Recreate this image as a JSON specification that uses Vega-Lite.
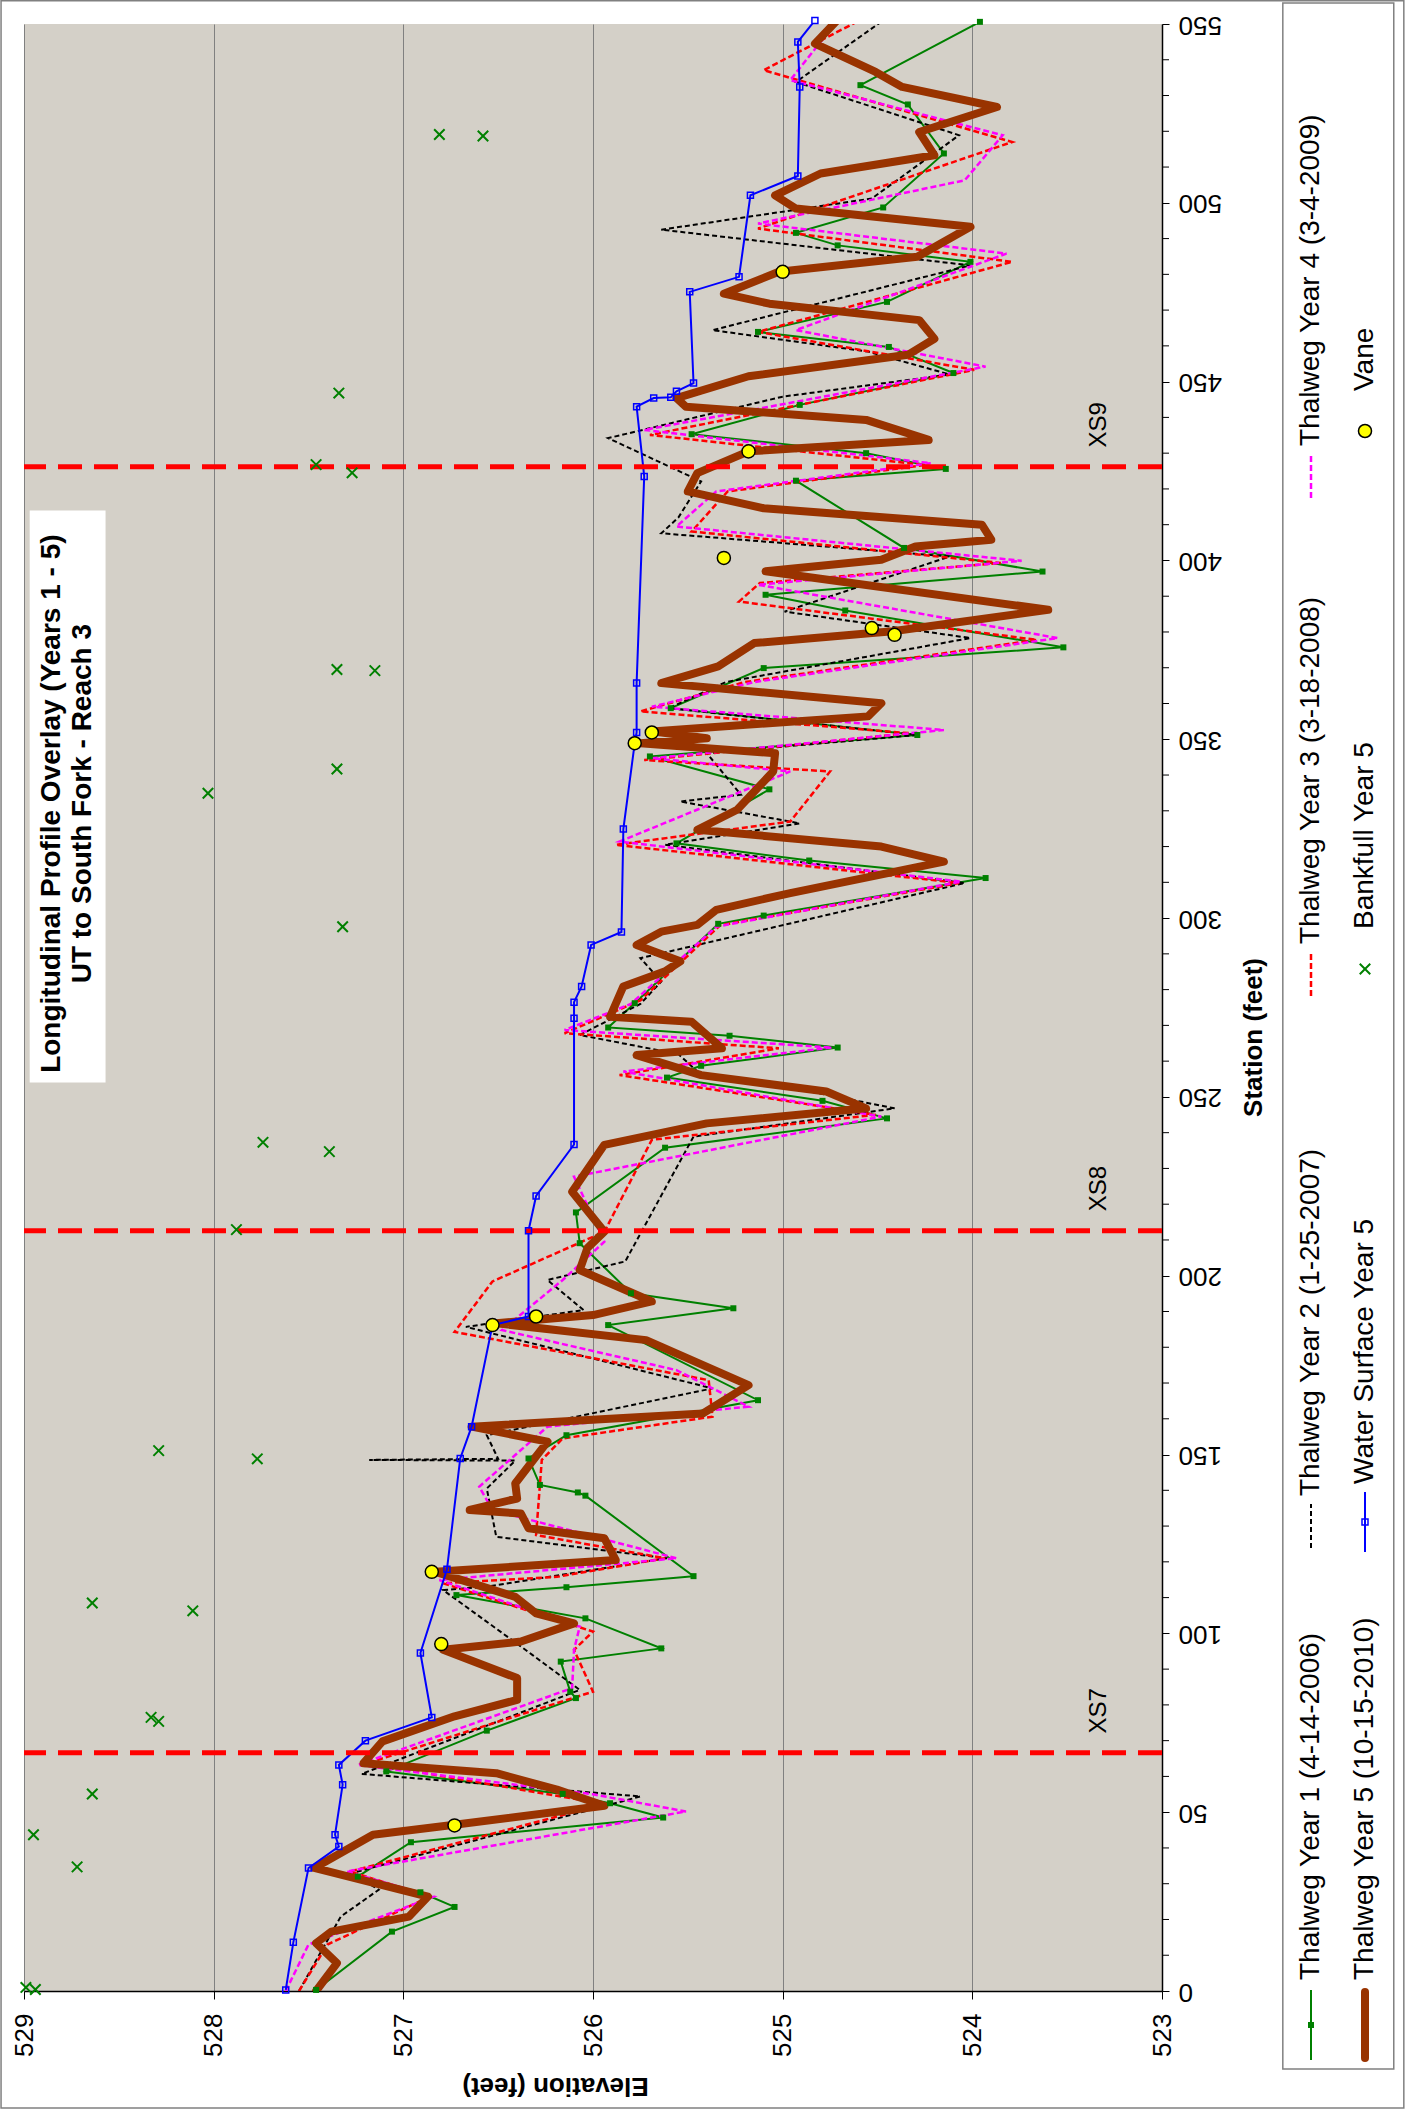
{
"$schema": "https://vega.github.io/schema/vega-lite/v6.json",
"width": 1138,
"height": 1967,
"autosize": {"type": "none"},
"padding": {"left": 24, "top": 24, "right": 243, "bottom": 121},
"background": "white",
"config": {"view": {"fill": "#D4D0C8", "stroke": null}, "font": "Liberation Sans"},
"datasets": {
"profiles": [
{"series":"Y1","station":0.3,"elevation":527.46},{"series":"Y1","station":16.6,"elevation":527.06},{"series":"Y1","station":23.5,"elevation":526.73},{"series":"Y1","station":27.6,"elevation":526.91},{"series":"Y1","station":32,"elevation":527.24},{"series":"Y1","station":41.6,"elevation":526.96},{"series":"Y1","station":48.5,"elevation":525.63},{"series":"Y1","station":52.5,"elevation":525.91},{"series":"Y1","station":55.1,"elevation":526.16},{"series":"Y1","station":61.4,"elevation":527.09},{"series":"Y1","station":72.8,"elevation":526.56},{"series":"Y1","station":81.9,"elevation":526.09},{"series":"Y1","station":83.7,"elevation":526.12},{"series":"Y1","station":92.1,"elevation":526.17},{"series":"Y1","station":95.8,"elevation":525.64},{"series":"Y1","station":104.2,"elevation":526.04},{"series":"Y1","station":110.7,"elevation":526.72},{"series":"Y1","station":112.9,"elevation":526.14},{"series":"Y1","station":116,"elevation":525.47},{"series":"Y1","station":138.5,"elevation":526.04},{"series":"Y1","station":139.4,"elevation":526.08},{"series":"Y1","station":141.5,"elevation":526.28},{"series":"Y1","station":148.9,"elevation":526.34},{"series":"Y1","station":155.4,"elevation":526.14},{"series":"Y1","station":165.2,"elevation":525.13},{"series":"Y1","station":186.2,"elevation":525.92},{"series":"Y1","station":190.9,"elevation":525.26},{"series":"Y1","station":195.1,"elevation":525.8},{"series":"Y1","station":209.1,"elevation":526.07},{"series":"Y1","station":217.7,"elevation":526.09},{"series":"Y1","station":235.8,"elevation":525.62},{"series":"Y1","station":244,"elevation":524.45},{"series":"Y1","station":248.9,"elevation":524.79},{"series":"Y1","station":255.4,"elevation":525.61},{"series":"Y1","station":258.7,"elevation":525.43},{"series":"Y1","station":263.8,"elevation":524.71},{"series":"Y1","station":267.1,"elevation":525.28},{"series":"Y1","station":269.4,"elevation":525.92},{"series":"Y1","station":276.2,"elevation":525.78},{"series":"Y1","station":298.4,"elevation":525.34},{"series":"Y1","station":300.7,"elevation":525.1},{"series":"Y1","station":311.2,"elevation":523.93},{"series":"Y1","station":316.1,"elevation":524.86},{"series":"Y1","station":320.9,"elevation":525.56},{"series":"Y1","station":336,"elevation":525.07},{"series":"Y1","station":345.2,"elevation":525.7},{"series":"Y1","station":351.2,"elevation":524.29},{"series":"Y1","station":358.7,"elevation":525.59},{"series":"Y1","station":369.9,"elevation":525.1},{"series":"Y1","station":375.7,"elevation":523.52},{"series":"Y1","station":386,"elevation":524.67},{"series":"Y1","station":390.4,"elevation":525.09},{"series":"Y1","station":396.9,"elevation":523.63},{"series":"Y1","station":403.5,"elevation":524.36},{"series":"Y1","station":422.3,"elevation":524.93},{"series":"Y1","station":425.6,"elevation":524.14},{"series":"Y1","station":430,"elevation":524.56},{"series":"Y1","station":435.3,"elevation":525.48},{"series":"Y1","station":443.5,"elevation":524.91},{"series":"Y1","station":452.4,"elevation":524.1},{"series":"Y1","station":459.7,"elevation":524.44},{"series":"Y1","station":463.9,"elevation":525.13},{"series":"Y1","station":472.3,"elevation":524.45},{"series":"Y1","station":483.5,"elevation":524.01},{"series":"Y1","station":488.1,"elevation":524.71},{"series":"Y1","station":491.6,"elevation":524.93},{"series":"Y1","station":498.7,"elevation":524.47},{"series":"Y1","station":513.8,"elevation":524.15},{"series":"Y1","station":527.5,"elevation":524.34},{"series":"Y1","station":532.9,"elevation":524.59},{"series":"Y1","station":550.6,"elevation":523.96},
{"series":"Y2","station":0,"elevation":527.55},{"series":"Y2","station":20.8,"elevation":527.33},{"series":"Y2","station":28.3,"elevation":527.13},{"series":"Y2","station":33,"elevation":527.27},{"series":"Y2","station":54.4,"elevation":525.75},{"series":"Y2","station":60.7,"elevation":527.22},{"series":"Y2","station":84.2,"elevation":526.07},{"series":"Y2","station":94,"elevation":526.32},{"series":"Y2","station":112.1,"elevation":526.79},{"series":"Y2","station":113,"elevation":526.57},{"series":"Y2","station":121,"elevation":525.61},{"series":"Y2","station":127,"elevation":526.51},{"series":"Y2","station":140.5,"elevation":526.56},{"series":"Y2","station":148.3,"elevation":526.41},{"series":"Y2","station":148.5,"elevation":527.18},{"series":"Y2","station":148.8,"elevation":526.5},{"series":"Y2","station":155.4,"elevation":526.56},{"series":"Y2","station":168.5,"elevation":525.37},{"series":"Y2","station":185.7,"elevation":526.67},{"series":"Y2","station":190.4,"elevation":526.05},{"series":"Y2","station":198.8,"elevation":526.24},{"series":"Y2","station":204,"elevation":525.83},{"series":"Y2","station":238.9,"elevation":525.47},{"series":"Y2","station":246.8,"elevation":524.41},{"series":"Y2","station":252,"elevation":524.9},{"series":"Y2","station":256.1,"elevation":525.43},{"series":"Y2","station":262,"elevation":525.55},{"series":"Y2","station":267.3,"elevation":526.07},{"series":"Y2","station":276,"elevation":525.75},{"series":"Y2","station":282.3,"elevation":525.64},{"series":"Y2","station":288.8,"elevation":525.75},{"series":"Y2","station":309.8,"elevation":524.04},{"series":"Y2","station":320.5,"elevation":525.62},{"series":"Y2","station":326.5,"elevation":524.91},{"series":"Y2","station":332.6,"elevation":525.54},{"series":"Y2","station":334.5,"elevation":525.22},{"series":"Y2","station":346.1,"elevation":525.4},{"series":"Y2","station":351.2,"elevation":524.29},{"series":"Y2","station":358.7,"elevation":525.6},{"series":"Y2","station":366,"elevation":525.3},{"series":"Y2","station":378.3,"elevation":524.01},{"series":"Y2","station":385.7,"elevation":524.99},{"series":"Y2","station":401.1,"elevation":524.12},{"series":"Y2","station":407.6,"elevation":525.64},{"series":"Y2","station":412,"elevation":525.55},{"series":"Y2","station":422.1,"elevation":525.43},{"series":"Y2","station":434.2,"elevation":525.92},{"series":"Y2","station":445.8,"elevation":525.0},{"series":"Y2","station":452,"elevation":524.12},{"series":"Y2","station":458.4,"elevation":524.55},{"series":"Y2","station":464.4,"elevation":525.37},{"series":"Y2","station":482.5,"elevation":524.01},{"series":"Y2","station":492.5,"elevation":525.64},{"series":"Y2","station":501.2,"elevation":524.53},{"series":"Y2","station":518.9,"elevation":524.07},{"series":"Y2","station":533.8,"elevation":524.93},{"series":"Y2","station":551,"elevation":524.47},
{"series":"Y3","station":0,"elevation":527.55},{"series":"Y3","station":13,"elevation":527.4},{"series":"Y3","station":26.4,"elevation":526.86},{"series":"Y3","station":33.4,"elevation":527.28},{"series":"Y3","station":52.3,"elevation":525.94},{"series":"Y3","station":63.7,"elevation":527.19},{"series":"Y3","station":83.7,"elevation":526.0},{"series":"Y3","station":95.4,"elevation":526.1},{"series":"Y3","station":100.5,"elevation":526.0},{"series":"Y3","station":114,"elevation":526.79},{"series":"Y3","station":115.8,"elevation":526.19},{"series":"Y3","station":121,"elevation":525.62},{"series":"Y3","station":127.5,"elevation":526.3},{"series":"Y3","station":148.5,"elevation":526.27},{"series":"Y3","station":154.5,"elevation":526.16},{"series":"Y3","station":160.6,"elevation":525.37},{"series":"Y3","station":170.8,"elevation":525.39},{"series":"Y3","station":184.3,"elevation":526.73},{"series":"Y3","station":198.4,"elevation":526.53},{"series":"Y3","station":212.3,"elevation":525.94},{"series":"Y3","station":238,"elevation":525.69},{"series":"Y3","station":245,"elevation":524.51},{"series":"Y3","station":256.1,"elevation":525.86},{"series":"Y3","station":263.6,"elevation":525.02},{"series":"Y3","station":267.8,"elevation":526.15},{"series":"Y3","station":277,"elevation":525.75},{"series":"Y3","station":298,"elevation":525.33},{"series":"Y3","station":309.8,"elevation":524.07},{"series":"Y3","station":320.5,"elevation":525.88},{"series":"Y3","station":327,"elevation":524.96},{"series":"Y3","station":341,"elevation":524.75},{"series":"Y3","station":344.2,"elevation":525.73},{"series":"Y3","station":351.7,"elevation":524.33},{"series":"Y3","station":357.8,"elevation":525.75},{"series":"Y3","station":366,"elevation":525.2},{"series":"Y3","station":377.8,"elevation":523.66},{"series":"Y3","station":388.5,"elevation":525.23},{"series":"Y3","station":393.7,"elevation":525.12},{"series":"Y3","station":399.3,"elevation":523.85},{"series":"Y3","station":408.1,"elevation":525.48},{"series":"Y3","station":419.3,"elevation":525.29},{"series":"Y3","station":426.7,"elevation":524.25},{"series":"Y3","station":435.1,"elevation":525.7},{"series":"Y3","station":453.3,"elevation":523.99},{"series":"Y3","station":463.9,"elevation":525.13},{"series":"Y3","station":483.5,"elevation":523.79},{"series":"Y3","station":492.8,"elevation":525.13},{"series":"Y3","station":517,"elevation":523.79},{"series":"Y3","station":537.1,"elevation":525.1},{"series":"Y3","station":550.6,"elevation":524.61},
{"series":"Y4","station":0,"elevation":527.62},{"series":"Y4","station":13,"elevation":527.5},{"series":"Y4","station":26.4,"elevation":526.84},{"series":"Y4","station":33.4,"elevation":527.3},{"series":"Y4","station":50.2,"elevation":525.51},{"series":"Y4","station":55,"elevation":526.0},{"series":"Y4","station":63.2,"elevation":527.24},{"series":"Y4","station":84.7,"elevation":526.11},{"series":"Y4","station":95.4,"elevation":526.1},{"series":"Y4","station":101.9,"elevation":526.07},{"series":"Y4","station":114.9,"elevation":526.81},{"series":"Y4","station":121,"elevation":525.56},{"series":"Y4","station":134.5,"elevation":526.53},{"series":"Y4","station":141,"elevation":526.6},{"series":"Y4","station":157.8,"elevation":526.24},{"series":"Y4","station":163.4,"elevation":525.18},{"series":"Y4","station":173.6,"elevation":525.56},{"series":"Y4","station":184.8,"elevation":526.48},{"series":"Y4","station":198.8,"elevation":526.16},{"series":"Y4","station":209.5,"elevation":525.94},{"series":"Y4","station":227.7,"elevation":526.1},{"series":"Y4","station":244.5,"elevation":524.48},{"series":"Y4","station":257.1,"elevation":525.84},{"series":"Y4","station":263.8,"elevation":524.74},{"series":"Y4","station":268.7,"elevation":526.15},{"series":"Y4","station":276,"elevation":525.8},{"series":"Y4","station":297.6,"elevation":525.35},{"series":"Y4","station":310.2,"elevation":524.06},{"series":"Y4","station":321.4,"elevation":525.86},{"series":"Y4","station":341,"elevation":524.96},{"series":"Y4","station":344.7,"elevation":525.69},{"series":"Y4","station":352.6,"elevation":524.15},{"series":"Y4","station":359.1,"elevation":525.69},{"series":"Y4","station":366,"elevation":525.15},{"series":"Y4","station":378.3,"elevation":523.55},{"series":"Y4","station":393.2,"elevation":525.13},{"series":"Y4","station":399.9,"elevation":523.74},{"series":"Y4","station":409.5,"elevation":525.56},{"series":"Y4","station":419.3,"elevation":525.35},{"series":"Y4","station":427.2,"elevation":524.22},{"series":"Y4","station":436.5,"elevation":525.73},{"series":"Y4","station":454.2,"elevation":523.93},{"series":"Y4","station":464.4,"elevation":524.93},{"series":"Y4","station":485.8,"elevation":523.82},{"series":"Y4","station":494.2,"elevation":525.13},{"series":"Y4","station":506.3,"elevation":524.04},{"series":"Y4","station":518.9,"elevation":523.84},{"series":"Y4","station":534.3,"elevation":524.96},{"series":"Y4","station":551,"elevation":524.71},
{"series":"Y5","station":0,"elevation":527.46},{"series":"Y5","station":7.8,"elevation":527.35},{"series":"Y5","station":13.4,"elevation":527.46},{"series":"Y5","station":16.6,"elevation":527.38},{"series":"Y5","station":20.8,"elevation":526.97},{"series":"Y5","station":26.4,"elevation":526.87},{"series":"Y5","station":34.4,"elevation":527.47},{"series":"Y5","station":43.7,"elevation":527.16},{"series":"Y5","station":46.5,"elevation":526.73},{"series":"Y5","station":51.8,"elevation":525.94},{"series":"Y5","station":56.3,"elevation":526.19},{"series":"Y5","station":60.9,"elevation":526.51},{"series":"Y5","station":63.7,"elevation":527.21},{"series":"Y5","station":69.8,"elevation":527.11},{"series":"Y5","station":76.8,"elevation":526.73},{"series":"Y5","station":81.4,"elevation":526.4},{"series":"Y5","station":87.5,"elevation":526.4},{"series":"Y5","station":95.4,"elevation":526.79},{"series":"Y5","station":97.7,"elevation":526.38},{"series":"Y5","station":102.8,"elevation":526.1},{"series":"Y5","station":105.6,"elevation":526.3},{"series":"Y5","station":110.2,"elevation":526.41},{"series":"Y5","station":117.2,"elevation":526.83},{"series":"Y5","station":120.5,"elevation":525.88},{"series":"Y5","station":126.6,"elevation":525.94},{"series":"Y5","station":129.4,"elevation":526.34},{"series":"Y5","station":133.5,"elevation":526.38},{"series":"Y5","station":134.5,"elevation":526.65},{"series":"Y5","station":137.7,"elevation":526.4},{"series":"Y5","station":141.9,"elevation":526.41},{"series":"Y5","station":153.6,"elevation":526.24},{"series":"Y5","station":157.8,"elevation":526.64},{"series":"Y5","station":161.5,"elevation":525.42},{"series":"Y5","station":169.4,"elevation":525.18},{"series":"Y5","station":182,"elevation":525.72},{"series":"Y5","station":186.7,"elevation":526.51},{"series":"Y5","station":189,"elevation":526.0},{"series":"Y5","station":192.8,"elevation":525.69},{"series":"Y5","station":201.6,"elevation":526.07},{"series":"Y5","station":207.7,"elevation":526.03},{"series":"Y5","station":212.3,"elevation":525.94},{"series":"Y5","station":223.5,"elevation":526.11},{"series":"Y5","station":236.6,"elevation":525.94},{"series":"Y5","station":242.6,"elevation":525.4},{"series":"Y5","station":246.8,"elevation":524.56},{"series":"Y5","station":251.5,"elevation":524.77},{"series":"Y5","station":256.1,"elevation":525.43},{"series":"Y5","station":261.7,"elevation":525.77},{"series":"Y5","station":263.6,"elevation":525.32},{"series":"Y5","station":271,"elevation":525.48},{"series":"Y5","station":272.4,"elevation":525.91},{"series":"Y5","station":278.5,"elevation":525.86},{"series":"Y5","station":280.9,"elevation":525.84},{"series":"Y5","station":285.1,"elevation":525.62},{"series":"Y5","station":287.9,"elevation":525.54},{"series":"Y5","station":292.5,"elevation":525.77},{"series":"Y5","station":296.2,"elevation":525.64},{"series":"Y5","station":298.1,"elevation":525.45},{"series":"Y5","station":302.3,"elevation":525.35},{"series":"Y5","station":307,"elevation":524.96},{"series":"Y5","station":315.8,"elevation":524.15},{"series":"Y5","station":320,"elevation":524.48},{"series":"Y5","station":324.7,"elevation":525.45},{"series":"Y5","station":330.3,"elevation":525.24},{"series":"Y5","station":341,"elevation":525.05},{"series":"Y5","station":346.1,"elevation":525.04},{"series":"Y5","station":348.9,"elevation":525.75},{"series":"Y5","station":350.3,"elevation":525.4},{"series":"Y5","station":352.2,"elevation":525.69},{"series":"Y5","station":356.4,"elevation":524.55},{"series":"Y5","station":360.1,"elevation":524.48},{"series":"Y5","station":365.7,"elevation":525.64},{"series":"Y5","station":370.4,"elevation":525.34},{"series":"Y5","station":376.9,"elevation":525.15},{"series":"Y5","station":380.2,"elevation":524.42},{"series":"Y5","station":386.2,"elevation":523.6},{"series":"Y5","station":397,"elevation":525.09},{"series":"Y5","station":400.2,"elevation":524.48},{"series":"Y5","station":403.9,"elevation":524.3},{"series":"Y5","station":405.8,"elevation":523.9},{"series":"Y5","station":410,"elevation":523.95},{"series":"Y5","station":414.6,"elevation":525.1},{"series":"Y5","station":419.3,"elevation":525.5},{"series":"Y5","station":424.4,"elevation":525.45},{"series":"Y5","station":430.5,"elevation":525.18},{"series":"Y5","station":433.7,"elevation":524.23},{"series":"Y5","station":439.3,"elevation":524.56},{"series":"Y5","station":443,"elevation":525.51},{"series":"Y5","station":445.4,"elevation":525.56},{"series":"Y5","station":451.5,"elevation":525.18},{"series":"Y5","station":457.5,"elevation":524.34},{"series":"Y5","station":462,"elevation":524.2},{"series":"Y5","station":467.2,"elevation":524.28},{"series":"Y5","station":471.8,"elevation":525.07},{"series":"Y5","station":474.6,"elevation":525.31},{"series":"Y5","station":480.7,"elevation":525.02},{"series":"Y5","station":484.9,"elevation":524.29},{"series":"Y5","station":493.3,"elevation":524.01},{"series":"Y5","station":498.4,"elevation":524.93},{"series":"Y5","station":502.1,"elevation":525.04},{"series":"Y5","station":508.2,"elevation":524.8},{"series":"Y5","station":513.3,"elevation":524.2},{"series":"Y5","station":519.8,"elevation":524.28},{"series":"Y5","station":526.8,"elevation":523.87},{"series":"Y5","station":532.4,"elevation":524.37},{"series":"Y5","station":536.6,"elevation":524.51},{"series":"Y5","station":544.5,"elevation":524.83},{"series":"Y5","station":550.6,"elevation":524.72},{"series":"Y5","station":556,"elevation":524.95},
{"series":"WS","station":0.3,"elevation":527.62},{"series":"WS","station":13.6,"elevation":527.58},{"series":"WS","station":34.4,"elevation":527.5},{"series":"WS","station":40.4,"elevation":527.34},{"series":"WS","station":43.7,"elevation":527.36},{"series":"WS","station":57.7,"elevation":527.32},{"series":"WS","station":63.2,"elevation":527.34},{"series":"WS","station":70,"elevation":527.2},{"series":"WS","station":76.5,"elevation":526.85},{"series":"WS","station":94.5,"elevation":526.91},{"series":"WS","station":117.9,"elevation":526.77},{"series":"WS","station":148.9,"elevation":526.7},{"series":"WS","station":157.8,"elevation":526.64},{"series":"WS","station":186.2,"elevation":526.53},{"series":"WS","station":188.6,"elevation":526.34},{"series":"WS","station":212.6,"elevation":526.34},{"series":"WS","station":222.3,"elevation":526.3},{"series":"WS","station":236.7,"elevation":526.1},{"series":"WS","station":272,"elevation":526.1},{"series":"WS","station":276.5,"elevation":526.1},{"series":"WS","station":280.9,"elevation":526.06},{"series":"WS","station":292.5,"elevation":526.01},{"series":"WS","station":296.1,"elevation":525.85},{"series":"WS","station":324.9,"elevation":525.84},{"series":"WS","station":348.9,"elevation":525.78},{"series":"WS","station":351.9,"elevation":525.77},{"series":"WS","station":365.7,"elevation":525.77},{"series":"WS","station":423.5,"elevation":525.73},{"series":"WS","station":443,"elevation":525.77},{"series":"WS","station":445.4,"elevation":525.68},{"series":"WS","station":445.6,"elevation":525.59},{"series":"WS","station":447.3,"elevation":525.56},{"series":"WS","station":449.6,"elevation":525.47},{"series":"WS","station":475.1,"elevation":525.49},{"series":"WS","station":479.3,"elevation":525.23},{"series":"WS","station":502.1,"elevation":525.17},{"series":"WS","station":507.5,"elevation":524.92},{"series":"WS","station":532.4,"elevation":524.91},{"series":"WS","station":545,"elevation":524.92},{"series":"WS","station":551,"elevation":524.83}
],
"bankfull": [
{"station":1.0,"elevation":528.99},{"station":0.4,"elevation":528.94},{"station":43.7,"elevation":528.95},{"station":34.7,"elevation":528.72},{"station":55.1,"elevation":528.64},{"station":76.5,"elevation":528.33},{"station":75.4,"elevation":528.29},{"station":108.5,"elevation":528.64},{"station":106.3,"elevation":528.11},{"station":151.1,"elevation":528.29},{"station":148.8,"elevation":527.77},{"station":212.9,"elevation":527.88},{"station":237.3,"elevation":527.74},{"station":234.7,"elevation":527.39},{"station":297.6,"elevation":527.32},{"station":334.9,"elevation":528.03},{"station":341.7,"elevation":527.35},{"station":369.5,"elevation":527.35},{"station":369.2,"elevation":527.15},{"station":426.8,"elevation":527.46},{"station":424.5,"elevation":527.27},{"station":446.8,"elevation":527.34},{"station":519.1,"elevation":526.81},{"station":518.7,"elevation":526.58}
],
"vane": [
{"station":46.3,"elevation":526.73},{"station":97.0,"elevation":526.8},{"station":117.2,"elevation":526.85},{"station":186.2,"elevation":526.53},{"station":188.6,"elevation":526.3},{"station":348.9,"elevation":525.78},{"station":351.9,"elevation":525.69},{"station":379.2,"elevation":524.41},{"station":381.1,"elevation":524.53},{"station":400.7,"elevation":525.31},{"station":430.5,"elevation":525.18},{"station":480.7,"elevation":525.0}
],
"xs": [
{"name":"XS7","station":66.6},{"name":"XS8","station":212.6},{"name":"XS9","station":426.2}
],
"minorticks": [
{"station":10},{"station":20},{"station":30},{"station":40},{"station":60},{"station":70},{"station":80},{"station":90},{"station":110},{"station":120},{"station":130},{"station":140},{"station":160},{"station":170},{"station":180},{"station":190},{"station":210},{"station":220},{"station":230},{"station":240},{"station":260},{"station":270},{"station":280},{"station":290},{"station":310},{"station":320},{"station":330},{"station":340},{"station":360},{"station":370},{"station":380},{"station":390},{"station":410},{"station":420},{"station":430},{"station":440},{"station":460},{"station":470},{"station":480},{"station":490},{"station":510},{"station":520},{"station":530},{"station":540}
],
"legend": [
{"series":"Vane","label":"Vane","col":2,"rank":1},
{"series":"Y4","label":"Thalweg Year 4 (3-4-2009)","col":1,"rank":2},
{"series":"BF","label":"Bankfull Year 5","col":2,"rank":3},
{"series":"Y3","label":"Thalweg Year 3 (3-18-2008)","col":1,"rank":4},
{"series":"WS","label":"Water Surface Year 5","col":2,"rank":5},
{"series":"Y2","label":"Thalweg Year 2 (1-25-2007)","col":1,"rank":6},
{"series":"Y1","label":"Thalweg Year 1 (4-14-2006)","col":1,"rank":7},
{"series":"Y5","label":"Thalweg Year 5 (10-15-2010)","col":2,"rank":8}
]
},
"layer": [
{
"layer": [
{"data": {"values": [{}]}, "mark": {"type": "rect", "filled": false, "stroke": "#808080", "strokeWidth": 1.5}, "encoding": {"x": {"datum": 529.121}, "x2": {"datum": 521.725}, "y": {"datum": 556.5}, "y2": {"datum": -32.7}}},
{"data": {"values": [{}]}, "mark": {"type": "rect", "fill": "white"}, "encoding": {"x": {"datum": 528.97}, "x2": {"datum": 528.57}, "y": {"datum": 254}, "y2": {"datum": 414}}},
{"data": {"values": [{}]}, "mark": {"type": "text", "text": ["Longitudinal Profile Overlay (Years 1 - 5)", "UT to South Fork - Reach 3"], "angle": 270, "align": "center", "baseline": "middle", "fontSize": 28, "fontWeight": "bold", "lineHeight": 31, "font": "Liberation Sans", "color": "black"}, "encoding": {"x": {"datum": 528.85}, "y": {"datum": 332}}},
{"data": {"values": [{}]}, "mark": {"type": "rect", "fill": "white", "stroke": "#808080", "strokeWidth": 1.5}, "encoding": {"x": {"datum": 522.363}, "x2": {"datum": 521.778}, "y": {"datum": 555.9}, "y2": {"datum": -21.8}}},
{"data": {"name": "profiles"}, "transform": [{"filter": "datum.series === 'Y1'"}], "mark": {"type": "line", "color": "#008000", "strokeWidth": 2, "clip": true},
 "encoding": {
  "x": {"field": "elevation", "type": "quantitative", "scale": {"domain": [523, 529], "reverse": true, "nice": false, "zero": false},
   "axis": {"orient": "bottom", "values": [523,524,525,526,527,528,529], "format": "d", "labelAngle": 270, "labelAlign": "right", "labelBaseline": "middle", "labelFontSize": 26, "labelFont": "Liberation Sans", "labelColor": "black", "labelPadding": 14, "labelFlush": false, "labelOverlap": false, "labelBound": false, "tickSize": 8, "tickColor": "black", "tickWidth": 1, "domainColor": "black", "domainWidth": 1.5, "grid": true, "gridColor": "#808080", "gridWidth": 1, "title": "Elevation (feet)", "titleFont": "Liberation Sans", "titleFontSize": 26, "titleFontWeight": "bold", "titleColor": "black", "titleAngle": 180, "titleAlign": "center", "titleBaseline": "middle", "titleX": 531, "titleY": 94}},
  "y": {"field": "station", "type": "quantitative", "scale": {"domain": [0, 550], "nice": false, "zero": false},
   "axis": {"orient": "right", "values": [0,50,100,150,200,250,300,350,400,450,500,550], "labelAngle": 180, "labelAlign": "right", "labelBaseline": "middle", "labelFontSize": 26, "labelFont": "Liberation Sans", "labelColor": "black", "labelPadding": 9, "labelFlush": false, "labelOverlap": false, "labelBound": false, "tickSize": 7, "tickColor": "black", "domainColor": "black", "domainWidth": 1.5, "grid": false, "title": "Station (feet)", "titleFont": "Liberation Sans", "titleFontSize": 26, "titleFontWeight": "bold", "titleColor": "black", "titleAngle": 270, "titleAlign": "center", "titleBaseline": "middle", "titleX": 91, "titleY": 1013}},
  "order": {"field": "station", "type": "quantitative"}}},
{"data": {"name": "minorticks"}, "mark": {"type": "rule", "color": "black", "strokeWidth": 1, "x2Offset": 7}, "encoding": {"x": {"datum": 523}, "x2": {"datum": 523}, "y": {"field": "station", "type": "quantitative"}}},
{"data": {"name": "profiles"}, "transform": [{"filter": "datum.series === 'Y2'"}], "mark": {"type": "line", "color": "#000000", "strokeWidth": 2, "strokeDash": [5, 3], "clip": true},
 "encoding": {"x": {"field": "elevation", "type": "quantitative"}, "y": {"field": "station", "type": "quantitative"}, "order": {"field": "station", "type": "quantitative"}}},
{"data": {"name": "profiles"}, "transform": [{"filter": "datum.series === 'Y3'"}], "mark": {"type": "line", "color": "#FF0000", "strokeWidth": 2.5, "strokeDash": [6, 3], "clip": true},
 "encoding": {"x": {"field": "elevation", "type": "quantitative"}, "y": {"field": "station", "type": "quantitative"}, "order": {"field": "station", "type": "quantitative"}}},
{"data": {"name": "profiles"}, "transform": [{"filter": "datum.series === 'Y4'"}], "mark": {"type": "line", "color": "#FF00FF", "strokeWidth": 2.5, "strokeDash": [6, 3], "clip": true},
 "encoding": {"x": {"field": "elevation", "type": "quantitative"}, "y": {"field": "station", "type": "quantitative"}, "order": {"field": "station", "type": "quantitative"}}},
{"data": {"name": "profiles"}, "transform": [{"filter": "datum.series === 'Y5'"}], "mark": {"type": "line", "color": "#993300", "strokeWidth": 8, "strokeJoin": "round", "strokeCap": "round", "clip": true},
 "encoding": {"x": {"field": "elevation", "type": "quantitative"}, "y": {"field": "station", "type": "quantitative"}, "order": {"field": "station", "type": "quantitative"}}},
{"data": {"name": "profiles"}, "transform": [{"filter": "datum.series === 'WS'"}], "mark": {"type": "line", "color": "#0000FF", "strokeWidth": 2, "clip": true},
 "encoding": {"x": {"field": "elevation", "type": "quantitative"}, "y": {"field": "station", "type": "quantitative"}, "order": {"field": "station", "type": "quantitative"}}},
{"data": {"name": "xs"}, "mark": {"type": "rule", "color": "#FF0000", "strokeWidth": 5, "strokeDash": [24, 12]}, "encoding": {"y": {"field": "station", "type": "quantitative"}}},
{"data": {"name": "xs"}, "mark": {"type": "text", "angle": 270, "align": "center", "baseline": "middle", "fontSize": 24, "font": "Liberation Sans", "color": "black", "yOffset": -42}, "encoding": {"y": {"field": "station", "type": "quantitative"}, "x": {"datum": 523.33}, "text": {"field": "name"}}},
{"data": {"name": "profiles"}, "transform": [{"filter": "datum.series === 'Y1'"}], "mark": {"type": "point", "shape": "square", "filled": true, "color": "#008000", "size": 36, "opacity": 1},
 "encoding": {"x": {"field": "elevation", "type": "quantitative"}, "y": {"field": "station", "type": "quantitative"}}},
{"data": {"name": "profiles"}, "transform": [{"filter": "datum.series === 'WS'"}], "mark": {"type": "point", "shape": "square", "filled": false, "color": "#0000FF", "strokeWidth": 1.5, "size": 36, "opacity": 1},
 "encoding": {"x": {"field": "elevation", "type": "quantitative"}, "y": {"field": "station", "type": "quantitative"}}},
{"data": {"name": "bankfull"}, "mark": {"type": "point", "shape": "M-1,-1L1,1M-1,1L1,-1", "filled": false, "color": "#008000", "strokeWidth": 2, "size": 110, "opacity": 1},
 "encoding": {"x": {"field": "elevation", "type": "quantitative"}, "y": {"field": "station", "type": "quantitative"}}},
{"data": {"name": "vane"}, "mark": {"type": "point", "shape": "circle", "filled": true, "fill": "#FFFF00", "stroke": "black", "strokeWidth": 1.5, "size": 170, "opacity": 1},
 "encoding": {"x": {"field": "elevation", "type": "quantitative"}, "y": {"field": "station", "type": "quantitative"}}}
]
},
{
"data": {"name": "legend"},
"encoding": {
 "x": {"field": "col", "type": "quantitative", "scale": {"domain": [1, 2], "range": [1287, 1341], "nice": false, "zero": false}, "axis": null},
 "y": {"field": "rank", "type": "quantitative", "scale": {"domain": [1, 2, 3, 4, 5, 6, 7, 8], "range": [367, 422, 905, 920, 1460, 1472, 1956, 1956], "nice": false, "zero": false}, "axis": null}
},
"layer": [
{"mark": {"type": "text", "angle": 270, "align": "left", "baseline": "middle", "fontSize": 28, "font": "Liberation Sans", "color": "black"}, "encoding": {"text": {"field": "label"}}},
{"transform": [{"filter": "datum.series === 'Y1'"}], "mark": {"type": "rule", "color": "#008000", "strokeWidth": 2, "yOffset": 80, "y2Offset": 10}, "encoding": {"y2": {"field": "rank"}}},
{"transform": [{"filter": "datum.series === 'Y2'"}], "mark": {"type": "rule", "color": "#000000", "strokeWidth": 2, "strokeDash": [5, 3], "yOffset": 52, "y2Offset": 8}, "encoding": {"y2": {"field": "rank"}}},
{"transform": [{"filter": "datum.series === 'Y3'"}], "mark": {"type": "rule", "color": "#FF0000", "strokeWidth": 2.5, "strokeDash": [6, 3], "yOffset": 52, "y2Offset": 8}, "encoding": {"y2": {"field": "rank"}}},
{"transform": [{"filter": "datum.series === 'Y4'"}], "mark": {"type": "rule", "color": "#FF00FF", "strokeWidth": 2.5, "strokeDash": [6, 3], "yOffset": 52, "y2Offset": 8}, "encoding": {"y2": {"field": "rank"}}},
{"transform": [{"filter": "datum.series === 'Y5'"}], "mark": {"type": "rule", "color": "#993300", "strokeWidth": 8, "strokeCap": "round", "yOffset": 78, "y2Offset": 12}, "encoding": {"y2": {"field": "rank"}}},
{"transform": [{"filter": "datum.series === 'WS'"}], "mark": {"type": "rule", "color": "#0000FF", "strokeWidth": 2, "yOffset": 68, "y2Offset": 8}, "encoding": {"y2": {"field": "rank"}}},
{"transform": [{"filter": "datum.series === 'Y1'"}], "mark": {"type": "point", "shape": "square", "filled": true, "color": "#008000", "size": 36, "opacity": 1, "yOffset": 45}},
{"transform": [{"filter": "datum.series === 'WS'"}], "mark": {"type": "point", "shape": "square", "filled": false, "color": "#0000FF", "strokeWidth": 1.5, "size": 36, "opacity": 1, "yOffset": 38}},
{"transform": [{"filter": "datum.series === 'BF'"}], "mark": {"type": "point", "shape": "M-1,-1L1,1M-1,1L1,-1", "filled": false, "color": "#008000", "strokeWidth": 2, "size": 110, "opacity": 1, "yOffset": 40}},
{"transform": [{"filter": "datum.series === 'Vane'"}], "mark": {"type": "point", "shape": "circle", "filled": true, "fill": "#FFFF00", "stroke": "black", "strokeWidth": 1.5, "size": 170, "opacity": 1, "yOffset": 40}}
]
}
],
"resolve": {"scale": {"x": "independent", "y": "independent"}}
}
